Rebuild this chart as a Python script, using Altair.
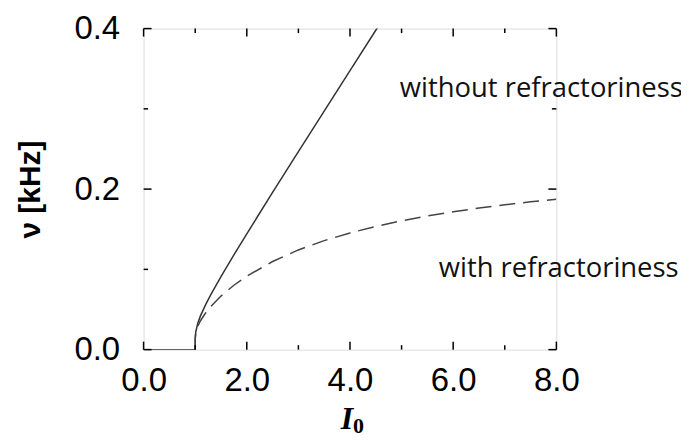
import altair as alt
import pandas as pd

# Values
I_solid = [0.0, 1.0, 1.001, 1.01, 1.05, 1.1, 1.2, 1.3, 1.5, 1.75, 2.0, 2.5, 3.0, 3.5, 4.0, 4.5, 4.6]
nu_solid = [0.0, 0.0, 0.0145, 0.0217, 0.0329, 0.0417, 0.0558, 0.0682, 0.0910, 0.1180, 0.1443,
            0.1958, 0.2466, 0.2972, 0.3476, 0.3979, 0.4080]

I_dashed = [1.0, 1.001, 1.01, 1.05, 1.1, 1.2, 1.3, 1.5, 1.75, 2.0, 2.5, 3.0, 3.5, 4.0, 4.5,
            5.0, 5.5, 6.0, 6.5, 7.0, 7.5, 8.0]
nu_dashed = [0.0, 0.0137, 0.0199, 0.0290, 0.0357, 0.0456, 0.0536, 0.0667, 0.0802, 0.0915,
             0.1098, 0.1242, 0.1358, 0.1454, 0.1535, 0.1605, 0.1665, 0.1717, 0.1764, 0.1805,
             0.1841, 0.1874]

x_major = [0, 2, 4, 6, 8]
x_minor = [1, 3, 5, 7]
y_major = [0.0, 0.2, 0.4]
y_minor = [0.1, 0.3]

label_without = "without refractoriness"
label_with = "with refractoriness"
y_title = "ν [kHz]"
x_title_main = "I"
x_title_sub = "0"

W, H = 414, 322
MAJ, MIN = 8, 4.5

x_scale = alt.Scale(domain=[0, 8], nice=False, zero=False)
y_scale = alt.Scale(domain=[0, 0.4], nice=False, zero=False)

x_axis = alt.Axis(values=x_major, format=".1f", title=None, ticks=False, domain=False, grid=False,
                  labelFont="Liberation Sans", labelFontSize=33, labelColor="#000",
                  labelPadding=15, labelFlush=False, labelOverlap=False)
y_axis = alt.Axis(values=y_major, format=".1f", title=y_title, ticks=False, domain=False, grid=False,
                  labelFont="Liberation Sans", labelFontSize=33, labelColor="#000",
                  labelPadding=24, labelFlush=False, labelOverlap=False,
                  titleFont="Liberation Sans", titleFontSize=30, titleFontWeight="bold",
                  titleColor="#000", titlePadding=29)

solid_df = pd.DataFrame({"I": I_solid, "nu": nu_solid})
dashed_df = pd.DataFrame({"I": I_dashed, "nu": nu_dashed})

X = alt.X("I:Q", scale=x_scale, axis=x_axis)
Y = alt.Y("nu:Q", scale=y_scale, axis=y_axis)

solid = alt.Chart(solid_df).mark_line(color="#333", strokeWidth=1.5, clip=True).encode(x=X, y=Y)
dashed = alt.Chart(dashed_df).mark_line(color="#444", strokeWidth=1.5, strokeDash=[16, 8], clip=True).encode(x=X, y=Y)

def xticks(vals, length):
    df = pd.DataFrame({"I": vals})
    bottom = alt.Chart(df).mark_rule(color="#000", strokeWidth=1.5).encode(
        x=X, y=alt.value(H), y2=alt.value(H - length))
    top = alt.Chart(df).mark_rule(color="#000", strokeWidth=1.5).encode(
        x=X, y=alt.value(0), y2=alt.value(length))
    return [bottom, top]

def yticks(vals, length):
    df = pd.DataFrame({"nu": vals})
    left = alt.Chart(df).mark_rule(color="#000", strokeWidth=1.5).encode(
        y=Y, x=alt.value(0), x2=alt.value(length))
    right = alt.Chart(df).mark_rule(color="#000", strokeWidth=1.5).encode(
        y=Y, x=alt.value(W), x2=alt.value(W - length))
    return [left, right]

ticks = xticks(x_major, MAJ) + xticks(x_minor, MIN) + yticks(y_major, MAJ) + yticks(y_minor, MIN)

txt_df = pd.DataFrame({"t": [0]})
ann1 = alt.Chart(txt_df).mark_text(text=label_without, font="Open Sans", fontSize=27.5, color="#111",
                                   align="left", baseline="alphabetic").encode(
    x=alt.value(257), y=alt.value(69))
ann2 = alt.Chart(txt_df).mark_text(text=label_with, font="Open Sans", fontSize=27.5, color="#111",
                                   align="left", baseline="alphabetic").encode(
    x=alt.value(296), y=alt.value(249))
xt1 = alt.Chart(txt_df).mark_text(text=x_title_main, font="Liberation Serif", fontSize=32,
                                  fontStyle="italic", fontWeight="bold", color="#000",
                                  align="center", baseline="alphabetic").encode(
    x=alt.value(204), y=alt.value(402))
xt2 = alt.Chart(txt_df).mark_text(text=x_title_sub, font="Liberation Serif", fontSize=22,
                                  fontWeight="bold", color="#000",
                                  align="left", baseline="alphabetic").encode(
    x=alt.value(210), y=alt.value(406))

chart = alt.layer(solid, dashed, *ticks, ann1, ann2, xt1, xt2).properties(
    width=W, height=H,
    autosize=alt.AutoSizeParams(type="none"),
    padding={"left": 136, "top": 20, "right": 125, "bottom": 90},
).configure_view(stroke="#000", strokeWidth=1.5).configure(background="white")

chart.save("out.html", embed_options={"renderer": "svg", "actions": False})
